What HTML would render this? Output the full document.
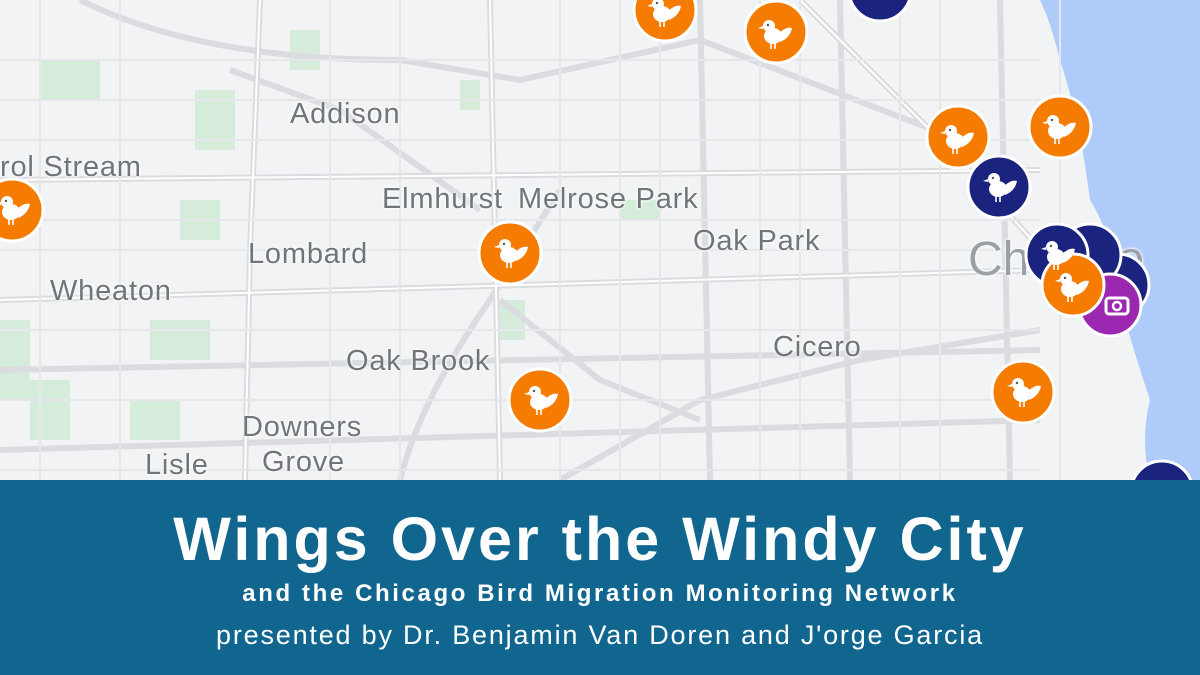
<!DOCTYPE html>
<html><head><meta charset="utf-8"><style>
html,body{margin:0;padding:0;width:1200px;height:675px;overflow:hidden;background:#f1f3f4;font-family:"Liberation Sans",sans-serif}
svg{position:absolute;left:0;top:0}
.lbl{position:absolute;color:#70757a;font-size:29px;letter-spacing:0.8px;white-space:nowrap;text-shadow:0 0 3px #fff,0 0 3px #fff}
#banner{position:absolute;left:0;top:480px;width:1200px;height:195px;background:#10668e;color:#fff;text-align:center}
#t1{position:absolute;top:24px;width:100%;font-size:61px;font-weight:bold;letter-spacing:3px}
#t2{position:absolute;top:100px;width:100%;font-size:24px;font-weight:bold;letter-spacing:2.6px}
#t3{position:absolute;top:140px;width:100%;font-size:27px;letter-spacing:1.8px}
</style></head><body>
<svg width="1200" height="675" viewBox="0 0 1200 675">
<g fill="#d6ecdb">
<rect x="40" y="60" width="60" height="40"/><rect x="180" y="200" width="40" height="40"/><rect x="195" y="90" width="40" height="60"/><rect x="290" y="30" width="30" height="40"/><rect x="0" y="320" width="30" height="80"/><rect x="150" y="320" width="60" height="40"/><rect x="30" y="380" width="40" height="60"/><rect x="495" y="300" width="30" height="40"/><rect x="130" y="400" width="50" height="40"/><rect x="460" y="80" width="20" height="30"/><rect x="620" y="200" width="40" height="20"/>
</g>
<path d="M1040,0 L1200,0 L1200,480 L1150,480 Q1140,440 1150,400 Q1130,340 1120,300 Q1115,240 1090,200 Q1080,120 1060,60 Q1050,20 1040,0z" fill="#aecbfa"/>
<g stroke="#dadce0" stroke-width="6" fill="none">
<path d="M0,180 L1040,170"/><path d="M0,300 L1040,270"/><path d="M0,450 L1040,420"/><path d="M0,370 L1040,350"/>
<path d="M260,0 L250,250 L245,480"/><path d="M490,0 L500,480"/><path d="M700,0 L710,480"/><path d="M840,0 L850,480"/><path d="M1000,0 L1010,480"/>
<path d="M80,0 Q200,60 400,60 L520,80 L700,40 L960,140"/><path d="M230,70 L340,110 L480,210"/>
<path d="M500,300 L600,380 L700,420"/><path d="M560,480 L700,400 L860,360 L1040,330"/><path d="M400,480 Q420,400 490,300 L560,190"/>
<path d="M800,0 L960,160 L1050,260"/>
</g>
<g stroke="#fff" stroke-width="2" fill="none">
<path d="M0,180 L1040,170"/><path d="M0,300 L1040,270"/><path d="M260,0 L250,250 L245,480"/><path d="M490,0 L500,480"/><path d="M800,0 L960,160 L1050,260"/>
</g>
<g stroke="#e6e7ea" stroke-width="2" fill="none">
<path d="M0,60 H1040 M0,100 H1040 M0,140 H1040 M0,220 H1040 M0,250 H1040 M0,330 H1040 M0,400 H1040 M0,470 H1040"/>
<path d="M40,0 V480 M120,0 V480 M330,0 V480 M400,0 V480 M560,0 V480 M620,0 V480 M660,0 V480 M760,0 V480 M800,0 V480 M900,0 V480 M940,0 V480 M1060,0 V480"/>
</g>
</svg>
<div class="lbl" style="left:290px;top:98px">Addison</div>
<div class="lbl" style="left:0px;top:151px">rol Stream</div>
<div class="lbl" style="left:382px;top:183px">Elmhurst</div>
<div class="lbl" style="left:518px;top:183px">Melrose Park</div>
<div class="lbl" style="left:248px;top:238px">Lombard</div>
<div class="lbl" style="left:693px;top:225px">Oak Park</div>
<div class="lbl" style="left:50px;top:275px">Wheaton</div>
<div class="lbl" style="left:346px;top:345px">Oak Brook</div>
<div class="lbl" style="left:773px;top:331px">Cicero</div>
<div class="lbl" style="left:242px;top:411px">Downers</div>
<div class="lbl" style="left:262px;top:446px">Grove</div>
<div class="lbl" style="left:145px;top:449px">Lisle</div>
<div class="lbl" style="left:968px;top:232px;font-size:48px;letter-spacing:0;color:#9aa0a6">Chicago</div>
<svg width="1200" height="675" viewBox="0 0 1200 675">
<defs>
<g id="bird"><ellipse cx="-3" cy="4" rx="9" ry="8" fill="#fff"/><circle cx="-7" cy="-6" r="6" fill="#fff"/><path d="M-13,-6 l-5,2 l5,1z" fill="#fff"/><path d="M2,2 Q10,-6 16,-4 Q14,6 4,10z" fill="#fff"/><path d="M-5,11 v6 M-1,11 v6" stroke="#fff" stroke-width="1.6"/><circle cx="-8" cy="-7" r="1.2" fill="#555"/></g>
</defs>
<g stroke="#fff" stroke-width="3">
<circle cx="880" cy="-10" r="31" fill="#1a237e"/>
<circle cx="1162" cy="492" r="31" fill="#1a237e"/>
<circle cx="1118" cy="285" r="31" fill="#1a237e"/>
<circle cx="1090" cy="255" r="31" fill="#1a237e"/>
<circle cx="1057" cy="255" r="31" fill="#1a237e"/>
<circle cx="1110" cy="305" r="31" fill="#9c27b0"/>
<circle cx="999" cy="187" r="31" fill="#1a237e"/>
</g>
<g stroke="#fff" stroke-width="3" fill="#f57c00">
<circle cx="665" cy="10" r="31"/><circle cx="776" cy="32" r="31"/><circle cx="958" cy="137" r="31"/><circle cx="1060" cy="127" r="31"/><circle cx="1073" cy="285" r="31"/><circle cx="12" cy="210" r="31"/><circle cx="510" cy="253" r="31"/><circle cx="540" cy="400" r="31"/><circle cx="1023" cy="392" r="31"/>
</g>
<rect x="1106" y="298" width="22" height="16" rx="3" fill="none" stroke="#fff" stroke-width="3"/>
<circle cx="1117" cy="306" r="4" fill="none" stroke="#fff" stroke-width="2.5"/>
<g>
<use href="#bird" x="665" y="10"/><use href="#bird" x="776" y="32"/><use href="#bird" x="958" y="137"/><use href="#bird" x="1060" y="127"/><use href="#bird" x="1073" y="285"/><use href="#bird" x="14" y="208"/><use href="#bird" x="512" y="251"/><use href="#bird" x="542" y="398"/><use href="#bird" x="1025" y="390"/><use href="#bird" x="1001" y="185"/><use href="#bird" x="1059" y="253"/>
</g>
</svg>
<div id="banner">
<div id="t1">Wings Over the Windy City</div>
<div id="t2">and the Chicago Bird Migration Monitoring Network</div>
<div id="t3">presented by Dr. Benjamin Van Doren and J'orge Garcia</div>
</div>
</body></html>
